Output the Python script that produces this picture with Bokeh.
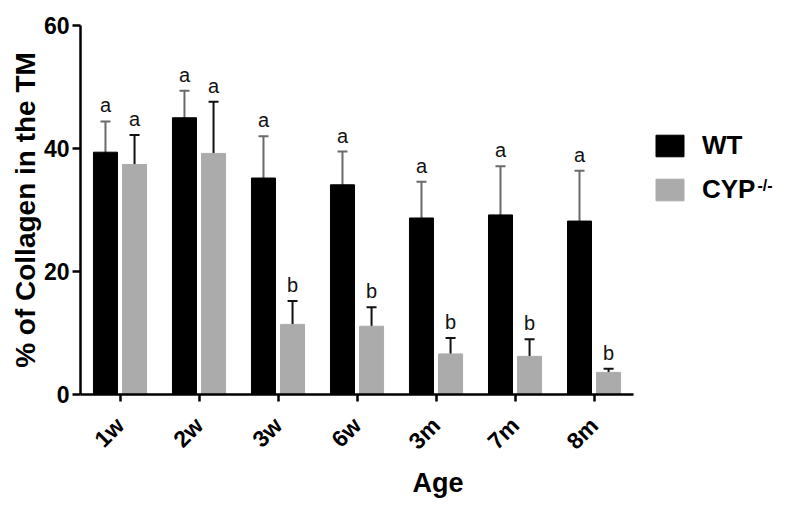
from bokeh.plotting import figure
from bokeh.models import (ColumnDataSource, Range1d, FixedTicker, Whisker,
                          TeeHead, Legend, LegendItem, Label)
from bokeh.transform import dodge
from bokeh.embed import file_html
from bokeh.resources import INLINE
import math

ages = ["1w", "2w", "3w", "6w", "3m", "7m", "8m"]
wt_mean = [39.4, 45.0, 35.2, 34.1, 28.7, 29.2, 28.2]
wt_err = [5.0, 4.4, 6.8, 5.4, 5.9, 7.9, 8.2]
cyp_mean = [37.4, 39.2, 11.4, 11.1, 6.6, 6.2, 3.6]
cyp_err = [4.8, 8.4, 3.8, 3.1, 2.6, 2.8, 0.6]
wt_letters = ["a", "a", "a", "a", "a", "a", "a"]
cyp_letters = ["a", "a", "b", "b", "b", "b", "b"]
y_ticks = [0, 20, 40, 60]

FONT = "Liberation Sans"
OFF = 0.184
BW = 0.304

pos = list(range(len(ages)))

src = ColumnDataSource(dict(
    pos=pos,
    wt=wt_mean, wt_up=[m + e for m, e in zip(wt_mean, wt_err)], wt_lo=[m - e for m, e in zip(wt_mean, wt_err)],
    cyp=cyp_mean, cyp_up=[m + e for m, e in zip(cyp_mean, cyp_err)], cyp_lo=[m - e for m, e in zip(cyp_mean, cyp_err)],
    wt_l=wt_letters, cyp_l=cyp_letters,
))

p = figure(x_range=Range1d(-0.5, 8.55), y_range=Range1d(0, 60),
           width=795, height=509, output_backend="svg", toolbar_location=None,
           min_border_left=80, min_border_right=0, min_border_top=25, min_border_bottom=115)
p.outline_line_color = None
p.xgrid.visible = False
p.ygrid.visible = False
p.background_fill_color = "white"
p.border_fill_color = "white"

r_wt = p.vbar(x=dodge("pos", -OFF), top="wt", width=BW, source=src,
              fill_color="black", line_color="black")
r_cyp = p.vbar(x=dodge("pos", OFF), top="cyp", width=BW, source=src,
               fill_color="#ababab", line_color="#ababab")

for base, up, lo, col in [(-OFF, "wt_up", "wt_lo", "#6a6a6a"), (OFF, "cyp_up", "cyp_lo", "#111111")]:
    w = Whisker(base=dodge("pos", base), upper=up, lower=lo, source=src,
                line_color=col, line_width=2,
                upper_head=TeeHead(size=10, line_color=col, line_width=2),
                lower_head=TeeHead(size=10, line_color=col, line_width=2))
    p.add_layout(w)

p.text(x=dodge("pos", -OFF), y="wt_up", text="wt_l", source=src,
       text_align="center", text_baseline="bottom", y_offset=-5,
       text_font={"value": FONT}, text_font_size="20px", text_color="#111111")
p.text(x=dodge("pos", OFF), y="cyp_up", text="cyp_l", source=src,
       text_align="center", text_baseline="bottom", y_offset=-5,
       text_font={"value": FONT}, text_font_size="20px", text_color="#111111")

# axes
for ax in (p.xaxis[0], p.yaxis[0]):
    ax.axis_line_width = 2.5
    ax.axis_line_color = "black"
    ax.major_tick_line_width = 2.5
    ax.major_tick_line_color = "black"
    ax.major_tick_in = 0
    ax.minor_tick_line_color = None
    ax.major_label_text_font = FONT
    ax.major_label_text_font_style = "bold"
    ax.major_label_text_color = "black"
    ax.axis_label_text_font = FONT
    ax.axis_label_text_font_style = "bold"
    ax.axis_label_text_color = "black"

p.yaxis.ticker = FixedTicker(ticks=y_ticks)
p.yaxis.major_tick_out = 8
p.yaxis.major_label_text_font_size = "23px"
p.yaxis.major_label_standoff = 3
p.yaxis.axis_label = "% of Collagen in the TM"
p.yaxis.axis_label_text_font_size = "28px"
p.yaxis.axis_label_standoff = 0

p.xaxis.ticker = FixedTicker(ticks=pos)
p.xaxis.major_label_overrides = {i: a for i, a in zip(pos, ages)}
p.xaxis.bounds = (-0.5, len(ages) - 0.5)
p.xaxis.major_tick_out = 7
p.xaxis.major_label_orientation = math.pi / 4
p.xaxis.major_label_text_font_size = "23px"
p.xaxis.major_label_standoff = 20
p.xaxis.axis_label = "Age"
p.xaxis.axis_label_text_font_size = "27px"
p.xaxis.axis_label_standoff = 2

legend = Legend(items=[LegendItem(label="WT", renderers=[r_wt]),
                       LegendItem(label="CYP", renderers=[r_cyp])],
                location=(572, 189), padding=0, margin=0, spacing=13,
                glyph_width=35, glyph_height=27, label_standoff=15,
                label_text_font=FONT, label_text_font_style="bold",
                label_text_font_size="26px", label_text_color="black",
                border_line_color=None, background_fill_alpha=0)
p.add_layout(legend)

sup = Label(x=677, y=218, x_units="screen", y_units="screen", text="-/-",
            text_font=FONT, text_font_style="bold", text_font_size="16px",
            text_color="black", text_baseline="top", text_align="left")
p.add_layout(sup)

open("out.html", "w").write(file_html(p, INLINE))
